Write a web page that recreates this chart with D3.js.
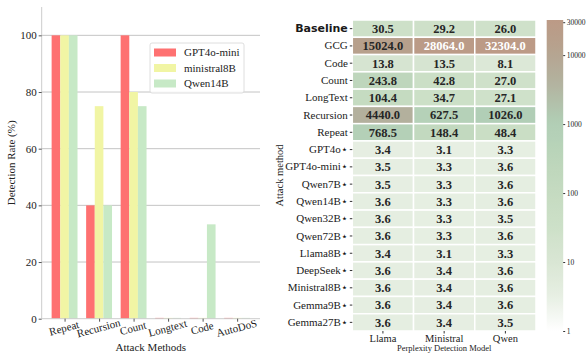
<!DOCTYPE html>
<html>
<head>
<meta charset="utf-8">
<script src="https://cdn.jsdelivr.net/npm/d3@7"></script>
<style>
  html, body { margin: 0; padding: 0; background: #ffffff; }
  svg { display: block; }
</style>
</head>
<body>
<svg id="fig" width="587" height="356"></svg>
<script>
// ---- Detection rate by attack method (bar chart) ----
const attackMethods = ["Repeat", "Recursion", "Count", "Longtext", "Code", "AutoDoS"];
const detectorNames = ["GPT4o-mini", "ministral8B", "Qwen14B"];
const gpt4oMiniRate = [100, 40, 100, 0, 0, 0];
const ministral8BRate = [100, 75, 80, 0, 0, 0];
const qwen14BRate = [100, 40, 75, 0, 33.3, 0];
const barColors = ["#fe7171", "#f1f5a4", "#c7e9c6"];
const rateTicks = [0, 20, 40, 60, 80, 100];

// ---- Perplexity heatmap ----
const attackRows = ["Baseline", "GCG", "Code", "Count", "LongText", "Recursion", "Repeat",
  "GPT4o\u22c6", "GPT4o-mini\u22c6", "Qwen7B\u22c6", "Qwen14B\u22c6", "Qwen32B\u22c6", "Qwen72B\u22c6",
  "Llama8B\u22c6", "DeepSeek\u22c6", "Ministral8B\u22c6", "Gemma9B\u22c6", "Gemma27B\u22c6"];
const pplModels = ["Llama", "Ministral", "Qwen"];
const llamaPpl = [30.5, 15024.0, 13.8, 243.8, 104.4, 4440.0, 768.5, 3.4, 3.5, 3.5, 3.6, 3.6, 3.6, 3.4, 3.6, 3.6, 3.6, 3.6];
const ministralPpl = [29.2, 28064.0, 13.5, 42.8, 34.7, 627.5, 148.4, 3.1, 3.3, 3.3, 3.3, 3.3, 3.3, 3.1, 3.4, 3.4, 3.4, 3.4];
const qwenPpl = [26.0, 32304.0, 8.1, 27.0, 27.1, 1026.0, 48.4, 3.3, 3.6, 3.6, 3.6, 3.5, 3.6, 3.3, 3.6, 3.6, 3.6, 3.5];
const colorbarTicks = [1, 10, 100, 1000, 10000, 30000];

const SERIF = "Liberation Serif, Times New Roman, serif";
const svg = d3.select("#fig");

// ================= bar chart =================
const bar = { left: 41.7, right: 260, top: 7, bottom: 318.7 };
const series = [gpt4oMiniRate, ministral8BRate, qwen14BRate];

const xCat = d3.scaleLinear().domain([-0.6625, attackMethods.length - 1 + 0.6625]).range([bar.left, bar.right]);
const yRate = d3.scaleLinear().domain([0, 110]).range([bar.bottom, bar.top]);
const barW = 0.25;

const gBar = svg.append("g");

// gridlines
gBar.append("g").selectAll("line").data(rateTicks.filter(d => d > 0)).join("line")
  .attr("x1", bar.left).attr("x2", bar.right)
  .attr("y1", d => yRate(d)).attr("y2", d => yRate(d))
  .attr("stroke", "#c4c4c4").attr("stroke-width", 1);

// bars (zero-height bars still leave a hairline on the baseline)
series.forEach((vals, si) => {
  gBar.append("g").selectAll("rect").data(vals).join("rect")
    .attr("x", (d, i) => xCat(i + (si - 1) * barW - barW / 2))
    .attr("width", xCat(barW) - xCat(0))
    .attr("y", d => Math.min(yRate(d), bar.bottom - 0.8))
    .attr("height", d => Math.max(bar.bottom - yRate(d), 0.8))
    .attr("fill", barColors[si]);
});

// y axis
const yAxis = d3.axisLeft(yRate).tickValues(rateTicks).tickSize(3).tickPadding(2);
const gy = gBar.append("g").attr("transform", `translate(${bar.left},0)`).call(yAxis);
gy.select(".domain").attr("stroke", "#cccccc").attr("d", `M0,${bar.top}V${bar.bottom}`);
gy.selectAll(".tick line").attr("stroke", "#555");
gy.selectAll(".tick text").style("font-size", "11px").style("font-family", SERIF).attr("fill", "#222");

// x axis
const xAxis = d3.axisBottom(xCat).tickValues(d3.range(attackMethods.length))
  .tickFormat(i => attackMethods[i]).tickSize(3).tickPadding(2);
const gx = gBar.append("g").attr("transform", `translate(0,${bar.bottom})`).call(xAxis);
gx.select(".domain").attr("stroke", "#cccccc").attr("d", `M${bar.left},0H${bar.right}`);
gx.selectAll(".tick line").attr("stroke", "#555");
gx.selectAll(".tick text")
  .style("font-size", "11px").style("font-family", SERIF).attr("fill", "#222")
  .attr("text-anchor", "middle").attr("dy", null).attr("y", 0)
  .attr("transform", "translate(0,13) rotate(-15)");

// axis titles
gBar.append("text").attr("x", (bar.left + bar.right) / 2).attr("y", 351)
  .attr("text-anchor", "middle").style("font-size", "11px").style("font-family", SERIF)
  .attr("fill", "#222").text("Attack Methods");
gBar.append("text").attr("transform", `translate(15,${(bar.top + bar.bottom) / 2}) rotate(-90)`)
  .attr("text-anchor", "middle").style("font-size", "11px").style("font-family", SERIF)
  .attr("fill", "#222").text("Detection Rate (%)");

// legend
const leg = gBar.append("g").attr("transform", "translate(150,43)");
leg.append("rect").attr("width", 94).attr("height", 50).attr("rx", 2)
  .attr("fill", "#ffffff").attr("fill-opacity", 0.85).attr("stroke", "#d6d6d6").attr("stroke-width", 0.8);
detectorNames.forEach((name, i) => {
  const y = 9.5 + i * 15.5;
  leg.append("rect").attr("x", 4).attr("y", y - 4).attr("width", 22).attr("height", 8).attr("fill", barColors[i]);
  leg.append("text").attr("x", 34).attr("y", y + 3.8)
    .style("font-size", "11px").style("font-family", SERIF).attr("fill", "#222").text(name);
});

// ================= heatmap =================
const hm = { left: 352.3, right: 536, top: 20, bottom: 331 };
const columns = [llamaPpl, ministralPpl, qwenPpl];

const xCol = d3.scaleBand().domain(pplModels).range([hm.left, hm.right]);
const yRow = d3.scaleBand().domain(attackRows).range([hm.top, hm.bottom]);

const vMin = 1, vMax = 32304;
const colorStops = d3.scaleLinear()
  .domain([0, 0.5, 1, 1.5, 2, 2.5, 3, 3.65, 4.18, Math.log10(vMax)])
  .range(["#ffffff", "#e7efe3", "#d9e6d4", "#cde0c8", "#c5dbc1", "#bcd5ba", "#b1cfb6",
          "#b3b09d", "#b7a08c", "#bc9a86"])
  .interpolate(d3.interpolateRgb)
  .clamp(true);
const cellColor = v => colorStops(Math.log10(Math.max(v, vMin)));

function luminance(c) {
  const rgb = d3.rgb(c);
  const lin = x => { x /= 255; return x <= 0.03928 ? x / 12.92 : Math.pow((x + 0.055) / 1.055, 2.4); };
  return 0.2126 * lin(rgb.r) + 0.7152 * lin(rgb.g) + 0.0722 * lin(rgb.b);
}

const cells = [];
pplModels.forEach((m, ci) => attackRows.forEach((r, ri) => cells.push({ m, r, v: columns[ci][ri] })));

const gHm = svg.append("g");
gHm.selectAll("rect").data(cells).join("rect")
  .attr("x", d => xCol(d.m)).attr("y", d => yRow(d.r))
  .attr("width", xCol.bandwidth()).attr("height", yRow.bandwidth())
  .attr("fill", d => cellColor(d.v))
  .attr("stroke", "#ffffff").attr("stroke-width", 1.5);

gHm.selectAll("text.val").data(cells).join("text").attr("class", "val")
  .attr("x", d => xCol(d.m) + xCol.bandwidth() / 2)
  .attr("y", d => yRow(d.r) + yRow.bandwidth() / 2 + 4.4)
  .attr("text-anchor", "middle")
  .style("font-size", "12.5px").style("font-weight", "bold").style("font-family", SERIF)
  .style("fill", d => luminance(cellColor(d.v)) < 0.364 ? "#ffffff" : "#262626")
  .text(d => d.v.toFixed(1));

// row labels
const gRows = gHm.append("g").attr("transform", `translate(${hm.left},0)`)
  .call(d3.axisLeft(yRow).tickSize(2.5).tickPadding(2));
gRows.select(".domain").remove();
gRows.selectAll(".tick line").attr("stroke", "#333");
gRows.selectAll(".tick text")
  .style("font-size", "11px").style("font-family", SERIF).attr("fill", "#1a1a1a")
  .filter(d => d === "Baseline")
  .style("font-family", "DejaVu Sans, sans-serif").style("font-weight", "bold").style("font-size", "11px");

// column labels
const gCols = gHm.append("g").attr("transform", `translate(0,${hm.bottom})`)
  .call(d3.axisBottom(xCol).tickSize(2.5).tickPadding(1));
gCols.select(".domain").remove();
gCols.selectAll(".tick line").attr("stroke", "#333");
gCols.selectAll(".tick text").style("font-size", "10.5px").style("font-family", SERIF).attr("fill", "#222");

gHm.append("text").attr("x", (hm.left + hm.right) / 2).attr("y", 351)
  .attr("text-anchor", "middle").style("font-size", "8.5px").style("font-family", SERIF)
  .attr("fill", "#222").text("Perplexity Detection Model");
gHm.append("text").attr("transform", `translate(283,${(hm.top + hm.bottom) / 2}) rotate(-90)`)
  .attr("text-anchor", "middle").style("font-size", "10.5px").style("font-family", SERIF)
  .attr("fill", "#222").text("Attack method");

// colorbar
const cb = { left: 546.7, width: 16.5 };
const yCb = d3.scaleLog().domain([vMin, vMax]).range([hm.bottom, hm.top]);
const defs = svg.append("defs");
const grad = defs.append("linearGradient").attr("id", "cbGrad")
  .attr("x1", 0).attr("y1", 1).attr("x2", 0).attr("y2", 0);
d3.range(0, 1.0001, 0.02).forEach(t => {
  grad.append("stop").attr("offset", t)
    .attr("stop-color", colorStops(t * Math.log10(vMax)));
});
svg.append("rect").attr("x", cb.left).attr("y", hm.top)
  .attr("width", cb.width).attr("height", hm.bottom - hm.top)
  .attr("fill", "url(#cbGrad)");
const gCb = svg.append("g").attr("transform", `translate(${cb.left + cb.width},0)`)
  .call(d3.axisRight(yCb).tickValues(colorbarTicks).tickFormat(d3.format("d")).tickSize(2).tickPadding(1.5));
gCb.select(".domain").remove();
gCb.selectAll(".tick line").attr("stroke", "#333");
gCb.selectAll(".tick text").style("font-size", "7.5px").style("font-family", SERIF).attr("fill", "#222");
</script>
</body>
</html>
